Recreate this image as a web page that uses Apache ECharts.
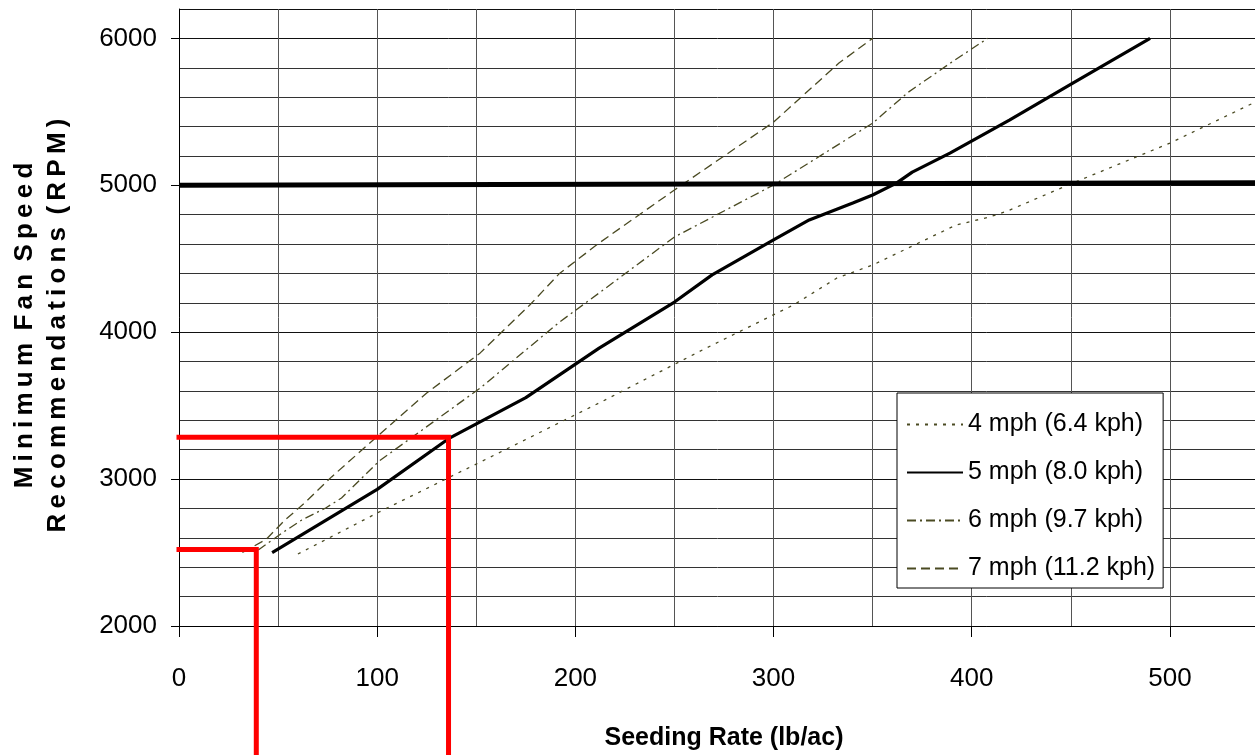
<!DOCTYPE html>
<html><head><meta charset="utf-8">
<script src="https://cdn.jsdelivr.net/npm/echarts@6/dist/echarts.min.js"></script>
<style>html,body{margin:0;padding:0;background:#fff}#c{width:1255px;height:755px}</style>
</head><body><div id="c"></div>
<script>
// ---- data ----
const seriesNames = ['4 mph (6.4 kph)', '5 mph (8.0 kph)', '6 mph (9.7 kph)', '7 mph (11.2 kph)'];
const mph4 = [[60,2490],[101,2776],[152,3116],[212,3518],[266,3892],[310,4185],[332,4369],[350,4457],[392,4729],[409,4784],[418,4825],[451,5015],[500,5287],[543,5566],[550,5612]];
const mph5 = [[47,2500],[100,2930],[136,3275],[175,3555],[212,3892],[250,4205],[269,4390],[300,4628],[318,4764],[340,4879],[350,4934],[362,5015],[370,5090],[389,5219],[419,5444],[451,5696],[490,6000]];
const mph6 = [[40,2517],[52,2633],[62,2722],[74,2803],[82,2871],[101,3123],[152,3620],[192,4069],[212,4267],[250,4648],[300,5002],[350,5423],[368,5634],[390,5839],[408,6000]];
const mph7 = [[32,2500],[44,2590],[53,2715],[64,2845],[77,3015],[100,3290],[125,3586],[152,3859],[177,4185],[192,4400],[212,4607],[250,4968],[300,5430],[333,5832],[350,6000]];
const maxFanLine = [[0,5000],[550,5017]];
const redLow = [[0,2520],[39,2520],[39,1000]];
const redHigh = [[0,3285],[136,3285],[136,1000]];
const xTicks = { min: 0, max: 550, step: 100, minorSteps: 2 };
const yTicks = { min: 2000, max: 6200, step: 1000, minorSteps: 5 };

const font = "'Liberation Sans',Arial,sans-serif";
const lineColor = '#4a4a22';
const plain = v => String(v);

const chart = echarts.init(document.getElementById('c'), null, {renderer: 'canvas'});
chart.setOption({
  animation: false,
  backgroundColor: '#fff',
  grid: { left: 179, right: -14, top: 9, bottom: 129, containLabel: false, outerBoundsMode: 'none' },
  legend: {
    data: seriesNames,
    orient: 'vertical',
    left: 897, top: 393,
    padding: [19, 8, 7, 9],
    itemGap: 23,
    itemWidth: 56, itemHeight: 14,
    backgroundColor: '#fff',
    borderColor: '#000', borderWidth: 1, borderRadius: 0,
    itemStyle: { color: 'rgba(0,0,0,0)', borderWidth: 0, opacity: 0 },
    textStyle: { fontFamily: font, fontSize: 25, color: '#000' }
  },
  xAxis: {
    type: 'value', min: xTicks.min, max: xTicks.max, interval: xTicks.step,
    name: 'Seeding Rate (lb/ac)', nameLocation: 'middle', nameGap: 100,
    nameTextStyle: { fontFamily: font, fontWeight: 'bold', fontSize: 25, color: '#000' },
    axisLine: { show: true, lineStyle: { color: '#000', width: 1 } },
    axisTick: { show: true, length: 11, lineStyle: { color: '#000' } },
    axisLabel: { margin: 40, fontFamily: font, fontSize: 26, color: '#000', showMaxLabel: false, formatter: plain },
    splitLine: { show: true, lineStyle: { color: '#555', width: 1 } },
    minorTick: { show: false, splitNumber: xTicks.minorSteps },
    minorSplitLine: { show: true, lineStyle: { color: '#555', width: 1 } }
  },
  yAxis: {
    type: 'value', min: yTicks.min, max: yTicks.max, interval: yTicks.step,
    name: 'M\u2009i\u2009n\u2009i\u2009m\u2009u\u2009m \u2009F\u2009a\u2009n \u2009S\u2009p\u2009e\u2009e\u2009d\nR\u2009e\u2009c\u2009o\u2009m\u2009m\u2009e\u2009n\u2009d\u2009a\u2009t\u2009i\u2009o\u2009n\u2009s \u2009(\u2009R\u2009P\u2009M\u2009)',
    nameLocation: 'middle', nameGap: 105, nameRotate: 90,
    nameTextStyle: { fontFamily: font, fontWeight: 'bold', fontSize: 26, lineHeight: 33, color: '#000', align: 'center', padding: [0, 16, 0, 0] },
    axisLine: { show: true, lineStyle: { color: '#000', width: 1 } },
    axisTick: { show: true, length: 8, lineStyle: { color: '#000' } },
    axisLabel: { margin: 22, fontFamily: font, fontSize: 26, color: '#000', showMaxLabel: false, formatter: plain },
    splitLine: { show: true, lineStyle: { color: '#111', width: 1 } },
    minorTick: { show: false, splitNumber: yTicks.minorSteps },
    minorSplitLine: { show: true, lineStyle: { color: '#333', width: 1 } }
  },
  series: [
    { name: seriesNames[0], type: 'line', data: mph4, symbol: 'none', showSymbol: false, z: 3,
      lineStyle: { color: lineColor, width: 1.3, type: [3, 6] }, itemStyle: { color: lineColor } },
    { name: seriesNames[1], type: 'line', data: mph5, symbol: 'none', showSymbol: false, z: 4,
      lineStyle: { color: '#000', width: 3.2, type: 'solid' }, itemStyle: { color: '#000' } },
    { name: seriesNames[2], type: 'line', data: mph6, symbol: 'none', showSymbol: false, z: 3,
      lineStyle: { color: lineColor, width: 1.3, type: [9, 4, 2, 4] }, itemStyle: { color: lineColor } },
    { name: seriesNames[3], type: 'line', data: mph7, symbol: 'none', showSymbol: false, z: 3,
      lineStyle: { color: lineColor, width: 1.3, type: [9, 5] }, itemStyle: { color: lineColor } },
    { name: 'limit', type: 'line', data: maxFanLine, symbol: 'none', showSymbol: false, z: 4,
      lineStyle: { color: '#000', width: 5 } },
    { name: 'redLow', type: 'line', data: redLow, symbol: 'none', showSymbol: false, clip: false, z: 10,
      lineStyle: { color: '#ff0000', width: 5, cap: 'square', join: 'miter' } },
    { name: 'redHigh', type: 'line', data: redHigh, symbol: 'none', showSymbol: false, clip: false, z: 10,
      lineStyle: { color: '#ff0000', width: 5, cap: 'square', join: 'miter' } }
  ]
});
</script></body></html>
